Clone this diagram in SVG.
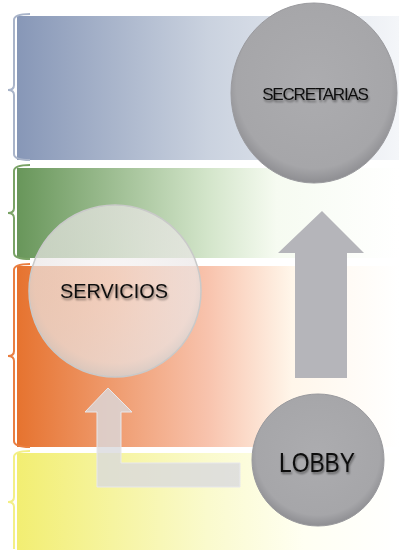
<svg xmlns="http://www.w3.org/2000/svg" width="399" height="550" viewBox="0 0 399 550">
<defs>
<linearGradient id="gBlue" x1="0" y1="0" x2="1" y2="0"><stop offset="0" stop-color="#8797b7"/><stop offset="0.5" stop-color="#cad2df"/><stop offset="1" stop-color="#f4f6f9"/></linearGradient>
<linearGradient id="gGreen" x1="0" y1="0" x2="1" y2="0"><stop offset="0" stop-color="#68965a"/><stop offset="0.5" stop-color="#d3e5ca"/><stop offset="0.68" stop-color="#f6fbf1"/><stop offset="1" stop-color="#ffffff"/></linearGradient>
<linearGradient id="gOrange" x1="0" y1="0" x2="1" y2="0"><stop offset="0" stop-color="#e6732f"/><stop offset="0.5" stop-color="#f8c3ad"/><stop offset="0.72" stop-color="#fff6ea"/><stop offset="1" stop-color="#ffffff"/></linearGradient>
<linearGradient id="gYellow" x1="0" y1="0" x2="1" y2="0"><stop offset="0" stop-color="#f2ee72"/><stop offset="0.5" stop-color="#fafacd"/><stop offset="0.75" stop-color="#fffff2"/><stop offset="1" stop-color="#ffffff"/></linearGradient>
<radialGradient id="gGray" cx="0.5" cy="0.45" r="0.55"><stop offset="0" stop-color="#acacaf"/><stop offset="0.85" stop-color="#a6a6a9"/><stop offset="1" stop-color="#8e8e92"/></radialGradient>
<radialGradient id="gGlass" cx="0.5" cy="0.45" r="0.55"><stop offset="0" stop-color="#f4f0f0" stop-opacity="0.6"/><stop offset="0.85" stop-color="#ebe7e7" stop-opacity="0.7"/><stop offset="1" stop-color="#d4d4d4" stop-opacity="0.8"/></radialGradient>
<filter id="ts" x="-30%" y="-50%" width="160%" height="200%"><feGaussianBlur in="SourceAlpha" stdDeviation="0.8"/><feOffset dx="1" dy="1.5" result="b"/><feComponentTransfer><feFuncA type="linear" slope="0.45"/></feComponentTransfer><feMerge><feMergeNode/><feMergeNode in="SourceGraphic"/></feMerge></filter>
</defs>
<style>
.br{fill:none;stroke-width:2}
.lbl{font-family:"Liberation Sans",sans-serif;fill:#111111;text-anchor:middle;filter:url(#ts)}
</style>
<g id="bands">
<rect x="17" y="16" width="382" height="144" fill="url(#gBlue)"/>
<rect x="17" y="168" width="382" height="90" fill="url(#gGreen)"/>
<rect x="17" y="266" width="382" height="181" fill="url(#gOrange)"/>
<rect x="17" y="453" width="382" height="97" fill="url(#gYellow)"/>
</g>
<g id="brackets">
<path class="br" stroke="#a9b4c9" d="M30,14 Q14,14 14,20 L14,85 Q14,90 8,90 Q14,90 14,95 L14,154 Q14,160 30,160"/>
<path class="br" stroke="#7aa366" d="M30,165 Q14,165 14,171 L14,208 Q14,213 8,213 Q14,213 14,218 L14,253 Q14,259 30,259"/>
<path class="br" stroke="#ea7e40" d="M30,264 Q14,264 14,270 L14,351 Q14,356 8,356 Q14,356 14,361 L14,441 Q14,447 30,447"/>
<path class="br" stroke="#f3ef86" d="M30,451 Q14,451 14,457 L14,497 Q14,502 8,502 Q14,502 14,507 L14,549"/>
</g>
<g id="connectors">
<path d="M322,211 L364,253 L347,253 L347,378 L295,378 L295,253 L278,253 Z" fill="#b5b5ba"/>
<path d="M108,388 L132,412 L121,412 L121,463 L240,463 L240,487 L97,487 L97,412 L85,412 Z" fill="#d9d9dd" fill-opacity="0.8" stroke="#e8e8ec" stroke-width="1"/>
</g>
<g id="secretarias">
<ellipse cx="314" cy="93" rx="83" ry="90" fill="url(#gGray)" stroke="#9a9a9e" stroke-width="1"/>
<text class="lbl" x="315" y="100" font-size="17" letter-spacing="-1.2">SECRETARIAS</text>
</g>
<g id="servicios">
<circle cx="115" cy="291" r="86" fill="url(#gGlass)" stroke="#c9c9c9" stroke-width="1.5"/>
<text class="lbl" x="114" y="298" font-size="21" textLength="108" lengthAdjust="spacingAndGlyphs">SERVICIOS</text>
</g>
<g id="lobby">
<circle cx="318" cy="460" r="66" fill="url(#gGray)" stroke="#9a9a9e" stroke-width="1"/>
<text class="lbl" x="317" y="472" font-size="28" textLength="76" lengthAdjust="spacingAndGlyphs">LOBBY</text>
</g>
</svg>
